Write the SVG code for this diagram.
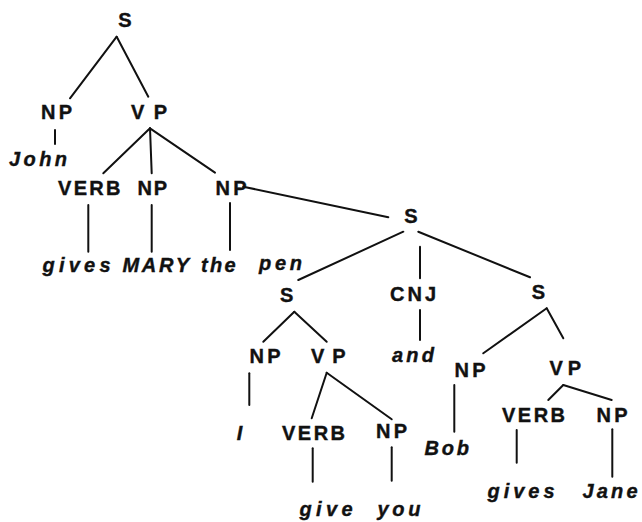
<svg xmlns="http://www.w3.org/2000/svg" width="642" height="522" viewBox="0 0 642 522">
  <style>
    .lab { font-family: "Liberation Sans", Arial, sans-serif; font-size: 20px; font-weight: bold; fill: #111; stroke: #111; stroke-width: 0.4; }
    .word { font-family: "Liberation Sans", Arial, sans-serif; font-size: 20px; font-weight: bold; font-style: italic; fill: #111; stroke: #111; stroke-width: 0.4; }
    .edges line { stroke: #111; stroke-width: 2; stroke-linecap: round; }
  </style>
  <rect width="642" height="522" fill="#fff"/>

  <!-- tree branches -->
  <g class="edges" id="connectors">
    <line x1="116.7" y1="36.7" x2="70" y2="98.3"/>
    <line x1="116.7" y1="36.7" x2="148.3" y2="96.7"/>
    <line x1="55" y1="130" x2="55" y2="144"/>
    <line x1="150" y1="128.3" x2="103.3" y2="173.3"/>
    <line x1="150" y1="128.3" x2="151.7" y2="173.3"/>
    <line x1="150" y1="128.3" x2="215" y2="172.7"/>
    <line x1="88.3" y1="205" x2="88.3" y2="251.7"/>
    <line x1="151.7" y1="205" x2="151.7" y2="251.7"/>
    <line x1="230" y1="203" x2="230" y2="250"/>
    <line x1="243.3" y1="186.7" x2="388.3" y2="217.3"/>
    <line x1="403.3" y1="231.7" x2="298.3" y2="280"/>
    <line x1="420" y1="246.7" x2="420" y2="278.3"/>
    <line x1="418.3" y1="231.7" x2="530" y2="277.3"/>
    <line x1="420" y1="310" x2="420" y2="340"/>
    <line x1="294.3" y1="311.7" x2="263.3" y2="341.7"/>
    <line x1="294.3" y1="311.7" x2="326.7" y2="341.7"/>
    <line x1="546.7" y1="308.3" x2="483.3" y2="353.3"/>
    <line x1="546.7" y1="308.3" x2="563.3" y2="338.3"/>
    <line x1="249.3" y1="373.3" x2="249.3" y2="405"/>
    <line x1="326.7" y1="372.7" x2="311.7" y2="418.3"/>
    <line x1="326.7" y1="372.7" x2="391.7" y2="419.3"/>
    <line x1="312.7" y1="448.3" x2="312.7" y2="481.7"/>
    <line x1="391.7" y1="447.3" x2="391.7" y2="480.7"/>
    <line x1="454.3" y1="385" x2="454.3" y2="431.7"/>
    <line x1="563.3" y1="385" x2="548.3" y2="400"/>
    <line x1="563.3" y1="385" x2="611.7" y2="400"/>
    <line x1="516.7" y1="430" x2="516.7" y2="462.7"/>
    <line x1="612.3" y1="429.3" x2="612.3" y2="476.7"/>
  </g>

  <!-- main clause -->
  <g id="s-root"><text class="lab" x="125" y="26.5" text-anchor="middle">S</text></g>
  <g id="np-john"><text class="lab" x="41" y="119.3" textLength="31" lengthAdjust="spacing">NP</text></g>
  <g id="vp-main"><text class="lab" x="131" y="119.3" textLength="36" lengthAdjust="spacing">VP</text></g>
  <g id="w-john"><text class="word" x="9" y="165.5" textLength="58" lengthAdjust="spacing">John</text></g>
  <g id="verb-main"><text class="lab" x="58" y="195" textLength="62.5" lengthAdjust="spacing">VERB</text></g>
  <g id="np-mary"><text class="lab" x="137.5" y="195" textLength="29.5" lengthAdjust="spacing">NP</text></g>
  <g id="np-pen"><text class="lab" x="215.5" y="195" textLength="31" lengthAdjust="spacing">NP</text></g>
  <g id="w-gives1"><text class="word" x="42.5" y="272" textLength="68" lengthAdjust="spacing">gives</text></g>
  <g id="w-mary"><text class="word" x="122.5" y="272" textLength="66.5" lengthAdjust="spacing">MARY</text></g>
  <g id="w-the"><text class="word" x="201" y="272" textLength="34.5" lengthAdjust="spacing">the</text></g>
  <g id="w-pen"><text class="word" x="259" y="270" textLength="43" lengthAdjust="spacing">pen</text></g>

  <!-- relative clause -->
  <g id="s-rel"><text class="lab" x="411" y="223" text-anchor="middle">S</text></g>
  <g id="s-left"><text class="lab" x="286.7" y="301.5" text-anchor="middle">S</text></g>
  <g id="cnj"><text class="lab" x="390" y="301" textLength="46" lengthAdjust="spacing">CNJ</text></g>
  <g id="s-right"><text class="lab" x="538.3" y="299" text-anchor="middle">S</text></g>
  <g id="w-and"><text class="word" x="392" y="362" textLength="42" lengthAdjust="spacing">and</text></g>

  <g id="np-i"><text class="lab" x="249.5" y="363" textLength="31" lengthAdjust="spacing">NP</text></g>
  <g id="vp-left"><text class="lab" x="311" y="363" textLength="34.5" lengthAdjust="spacing">VP</text></g>
  <g id="w-i"><text class="word" x="239.5" y="440" text-anchor="middle">I</text></g>
  <g id="verb-left"><text class="lab" x="282" y="440" textLength="63" lengthAdjust="spacing">VERB</text></g>
  <g id="np-you"><text class="lab" x="376" y="438" textLength="31" lengthAdjust="spacing">NP</text></g>
  <g id="w-give"><text class="word" x="299.5" y="516" textLength="53" lengthAdjust="spacing">give</text></g>
  <g id="w-you"><text class="word" x="377.5" y="516" textLength="43" lengthAdjust="spacing">you</text></g>

  <g id="np-bob"><text class="lab" x="454.5" y="376.5" textLength="31" lengthAdjust="spacing">NP</text></g>
  <g id="vp-right"><text class="lab" x="549.5" y="375" textLength="31.5" lengthAdjust="spacing">VP</text></g>
  <g id="w-bob"><text class="word" x="424.5" y="455" textLength="44.5" lengthAdjust="spacing">Bob</text></g>
  <g id="verb-right"><text class="lab" x="502" y="421.5" textLength="63" lengthAdjust="spacing">VERB</text></g>
  <g id="np-jane"><text class="lab" x="596.5" y="421.5" textLength="31" lengthAdjust="spacing">NP</text></g>
  <g id="w-gives2"><text class="word" x="487.5" y="498" textLength="67" lengthAdjust="spacing">gives</text></g>
  <g id="w-jane"><text class="word" x="582.5" y="498" textLength="55" lengthAdjust="spacing">Jane</text></g>
</svg>
